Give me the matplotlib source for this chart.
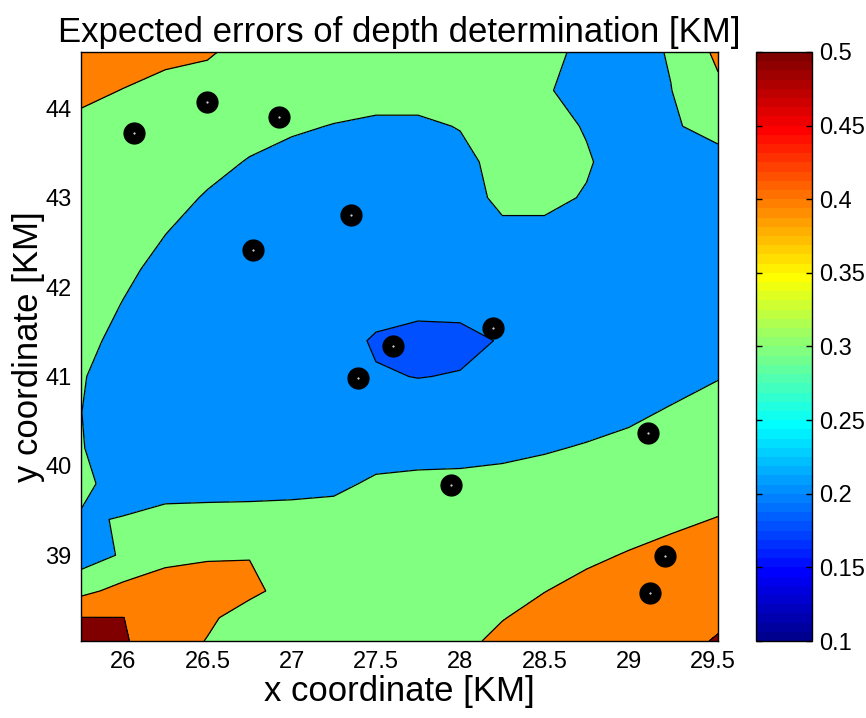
import numpy as np
import matplotlib
matplotlib.use("Agg")
import matplotlib.pyplot as plt
from matplotlib.colors import LinearSegmentedColormap, Normalize
import matplotlib.cm as cm

plt.rcParams['font.family'] = ['Liberation Sans', 'DejaVu Sans']

# grid coordinates (km)
x_grid = [25.75, 26.0, 26.25, 26.5, 26.75, 27.0, 27.25, 27.5, 27.75,
          28.0, 28.25, 28.5, 28.75, 29.0, 29.25, 29.53]
y_grid = [44.63, 44.2, 43.8, 43.4, 43.0, 42.6, 42.2, 41.8, 41.4,
          41.0, 40.6, 40.2, 39.8, 39.4, 39.0, 38.6, 38.3, 38.04]

# expected depth error (km), rows follow y_grid (top to bottom)
z_rows = [
    [0.450, 0.436, 0.418, 0.410, 0.368, 0.350, 0.350, 0.350, 0.350, 0.350, 0.350, 0.321, 0.282, 0.262, 0.3075, 0.420],
    [0.418, 0.398, 0.379, 0.363, 0.350, 0.348, 0.337, 0.327, 0.327, 0.338, 0.350, 0.309, 0.2675, 0.253, 0.298, 0.381],
    [0.382, 0.362, 0.350, 0.350, 0.329, 0.311, 0.297, 0.288, 0.288, 0.303, 0.338, 0.329, 0.294, 0.254, 0.294, 0.318],
    [0.350, 0.350, 0.350, 0.324, 0.295, 0.274, 0.258, 0.250, 0.250, 0.281, 0.323, 0.350, 0.308, 0.260, 0.264, 0.282],
    [0.350, 0.350, 0.328, 0.293, 0.264, 0.250, 0.250, 0.250, 0.250, 0.274, 0.314, 0.319, 0.294, 0.253, 0.250, 0.250],
    [0.350, 0.339, 0.301, 0.267, 0.250, 0.250, 0.250, 0.250, 0.250, 0.260, 0.286, 0.281, 0.264, 0.250, 0.250, 0.250],
    [0.350, 0.316, 0.278, 0.250, 0.250, 0.250, 0.250, 0.250, 0.250, 0.250, 0.250, 0.250, 0.250, 0.250, 0.250, 0.250],
    [0.339, 0.297, 0.256, 0.250, 0.250, 0.250, 0.250, 0.232, 0.218, 0.219, 0.239, 0.250, 0.250, 0.250, 0.250, 0.250],
    [0.321, 0.279, 0.250, 0.250, 0.250, 0.250, 0.237, 0.190, 0.178, 0.181, 0.205, 0.250, 0.250, 0.250, 0.250, 0.257],
    [0.306, 0.262, 0.250, 0.250, 0.250, 0.250, 0.241, 0.207, 0.198, 0.204, 0.208, 0.250, 0.250, 0.250, 0.272, 0.296],
    [0.301, 0.2545, 0.250, 0.250, 0.250, 0.250, 0.250, 0.244, 0.238, 0.242, 0.250, 0.254, 0.269, 0.285, 0.307, 0.332],
    [0.304, 0.259, 0.250, 0.250, 0.250, 0.250, 0.250, 0.272, 0.276, 0.277, 0.283, 0.293, 0.306, 0.320, 0.342, 0.350],
    [0.315, 0.273, 0.278, 0.279, 0.280, 0.282, 0.286, 0.310, 0.315, 0.317, 0.322, 0.332, 0.344, 0.350, 0.350, 0.366],
    [0.294, 0.303, 0.317, 0.319, 0.320, 0.322, 0.326, 0.344, 0.350, 0.350, 0.350, 0.350, 0.350, 0.368, 0.385, 0.403],
    [0.250, 0.311, 0.386, 0.393, 0.396, 0.369, 0.350, 0.350, 0.350, 0.350, 0.350, 0.364, 0.386, 0.405, 0.422, 0.440],
    [0.375, 0.430, 0.426, 0.433, 0.425, 0.360, 0.350, 0.350, 0.350, 0.350, 0.373, 0.3985, 0.422, 0.441, 0.450, 0.452],
    [0.502, 0.501, 0.460, 0.420, 0.349, 0.350, 0.350, 0.350, 0.350, 0.369, 0.397, 0.424, 0.450, 0.450, 0.458, 0.482],
    [0.528, 0.507, 0.460, 0.395, 0.354, 0.350, 0.350, 0.350, 0.350, 0.381, 0.4175, 0.446, 0.450, 0.450, 0.466, 0.508],
]

# contour levels and the fill colour of each band
levels = [0.1, 0.2, 0.3, 0.4, 0.5, 0.6]
band_colors = ['#0050FF', '#008FFF', '#80FF80', '#FF8000', '#800000']

# station positions (km)
station_x = [26.065, 26.499, 26.926, 27.353, 26.772, 28.196, 27.602,
             27.395, 27.947, 29.116, 29.217, 29.128]
station_y = [43.724, 44.070, 43.903, 42.806, 42.415, 41.542, 41.341,
             40.980, 39.783, 40.365, 38.990, 38.576]

x_ticks = [26, 26.5, 27, 27.5, 28, 28.5, 29, 29.5]
x_ticklabels = ['26', '26.5', '27', '27.5', '28', '28.5', '29', '29.5']
y_ticks = [39, 40, 41, 42, 43, 44]
cbar_ticks = [0.1, 0.15, 0.2, 0.25, 0.3, 0.35, 0.4, 0.45, 0.5]
cbar_ticklabels = ['0.1', '0.15', '0.2', '0.25', '0.3', '0.35', '0.4', '0.45', '0.5']

# MATLAB-like jet colormap, 64 entries
jet_anchors = [(0.0, (0, 0, 0.5625)), (7 / 63, (0, 0, 1)), (23 / 63, (0, 1, 1)),
               (39 / 63, (1, 1, 0)), (55 / 63, (1, 0, 0)), (1.0, (0.5, 0, 0))]
mjet = LinearSegmentedColormap.from_list('mjet', jet_anchors, N=64)

X = np.array(x_grid)
Y = np.array(y_grid)[::-1]
Z = np.array(z_rows)[::-1]

W, H = 866, 718
fig = plt.figure(figsize=(W / 100, H / 100), dpi=100)
ax = fig.add_axes([81 / W, 1 - 641 / H, (718 - 81) / W, (641 - 52) / H])

ax.contourf(X, Y, Z, levels=levels, colors=band_colors)
ax.contour(X, Y, Z, levels=levels[1:-1], colors='k', linewidths=0.9)

ax.plot(station_x, station_y, 'o', color='k', markersize=15, zorder=5)
ax.plot(station_x, station_y, '.', color='white', markersize=1.0, zorder=6)

ax.set_xlim(25.75, 29.53)
ax.set_ylim(38.04, 44.63)
ax.set_xticks(x_ticks)
ax.set_xticklabels(x_ticklabels)
ax.set_yticks(y_ticks)
ax.tick_params(length=0, labelsize=17, pad=7)
for s in ax.spines.values():
    s.set_linewidth(1.0)

ax.set_title('Expected errors of depth determination [KM]', fontsize=25, pad=7)
ax.set_xlabel('x coordinate [KM]', fontsize=25, labelpad=2)
ax.set_ylabel('y coordinate [KM]', fontsize=25, labelpad=0)

cax = fig.add_axes([756 / W, 1 - 641 / H, (812 - 756) / W, (641 - 52) / H])
sm = cm.ScalarMappable(norm=Normalize(0.1, 0.5), cmap=mjet)
cb = fig.colorbar(sm, cax=cax)
cb.set_ticks(cbar_ticks)
cb.set_ticklabels(cbar_ticklabels)
cb.outline.set_linewidth(1.0)
cax.tick_params(direction='in', length=4, width=1, labelsize=17, pad=5,
                left=True, right=True)

fig.savefig('out.png', dpi=100)
